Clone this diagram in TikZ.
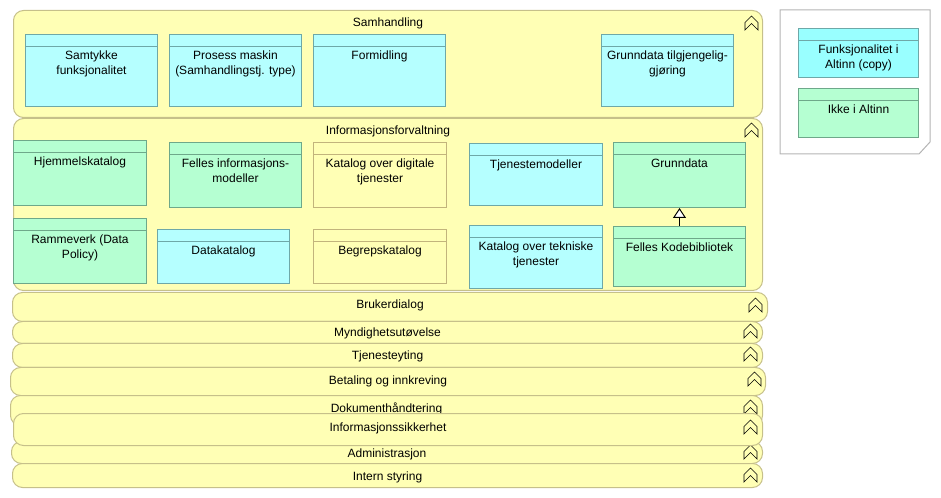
\documentclass[tikz,border=0pt]{standalone}
\usepackage{fontspec}
\setmainfont{Liberation Sans}
\usetikzlibrary{arrows.meta,calc}
\definecolor{grpfill}{HTML}{FFFFB5}
\definecolor{grpline}{HTML}{C6C08A}
\definecolor{cyanfill}{HTML}{B5FFFF}
\definecolor{cyanline}{HTML}{6EA8A8}
\definecolor{legcyanfill}{HTML}{99FFFF}
\definecolor{greenfill}{HTML}{B5FFD2}
\definecolor{greenline}{HTML}{6EA88A}
\definecolor{yelline}{HTML}{C2B47C}
\definecolor{legline}{HTML}{B4B4B4}
\tikzset{
  grp/.style={draw=grpline, fill=grpfill, rounded corners=7.5pt, inner sep=0pt, anchor=north west},
  cyanbox/.style={draw=cyanline, fill=cyanfill},
  legcyanbox/.style={draw=cyanline, fill=legcyanfill},
  greenbox/.style={draw=greenline, fill=greenfill},
  yellowbox/.style={draw=yelline, fill=grpfill},
  chevst/.style={draw=black, line width=0.5pt, line join=miter},
  lbl/.style={inner sep=0pt, text=black},
}
% group / band: name, x1, y1, x2, y2, label, baseline offset
\newcommand\grpbox[7]{%
  \node[grp, minimum width={(#4-#2)*0.75pt}, minimum height={(#5-#3)*0.75pt}] (#1) at (#2,#3) {};
  \node[lbl, anchor=base] (#1-t) at ($(#1.north)+(0,#7)$) {#6};
}
% chevron icon at top-left x,y
\newcommand\chev[2]{%
  \draw[chevst] (#1,#2+14) -- (#1,#2+6.5) -- (#1+6.5,#2) -- (#1+13,#2+6.5) -- (#1+13,#2+14) -- (#1+6.5,#2+7.5) -- cycle;
}
% element: name, x1, y1, x2, y2, style, text
\newcommand\elem[7]{%
  \node[#6, inner sep=0pt, anchor=north west, minimum width={(#4-#2)*0.75pt}, minimum height={(#5-#3)*0.75pt}] (#1) at (#2,#3) {};
  \draw[#6, fill=none] ($(#1.north west)+(0,12.5)$) -- ($(#1.north east)+(0,12.5)$);
  \node[lbl, anchor=north, align=center] (#1-t) at ($(#1.north)+(0,16)$) {#7};
}
\begin{document}
\begin{tikzpicture}[x=0.75pt, y=-0.75pt, line width=0.75pt, font=\fontsize{9}{11.25}\selectfont]
\useasboundingbox (0,0) rectangle (941,498);

% ---- Samhandling ----
\grpbox{samh}{13}{10}{762}{117}{Samhandling}{16.5}
\chev{745}{16}
\elem{samtykke}{25}{34}{157}{106}{cyanbox}{Samtykke\\funksjonalitet}
\elem{prosess}{169}{34}{301}{106}{cyanbox}{Prosess maskin\\(Samhandlingstj. type)}
\elem{formidling}{313}{34}{445}{106}{cyanbox}{Formidling}
\elem{grunntilg}{601}{34}{733}{106}{cyanbox}{Grunndata tilgjengelig-\\gjøring}

% ---- Informasjonsforvaltning ----
\grpbox{infoforv}{13}{118}{762}{290}{Informasjonsforvaltning}{16.5}
\chev{745}{123}
\elem{hjemmel}{13}{140}{146}{205}{greenbox}{Hjemmelskatalog}
\elem{felles}{169}{142}{301}{207}{greenbox}{Felles informasjons-\\modeller}
\elem{katdig}{313}{142}{446}{207}{yellowbox}{Katalog over digitale\\tjenester}
\elem{tjmod}{469}{143}{602}{205}{cyanbox}{Tjenestemodeller}
\elem{grunndata}{613}{142}{745}{207}{greenbox}{Grunndata}
\elem{rammeverk}{13}{218}{146}{283}{greenbox}{Rammeverk (Data\\Policy)}
\elem{datakat}{157}{229}{289}{283}{cyanbox}{Datakatalog}
\elem{begrep}{313}{229}{446}{283}{yellowbox}{Begrepskatalog}
\elem{kattek}{469}{225}{602}{288}{cyanbox}{Katalog over tekniske\\tjenester}
\elem{kode}{613}{226}{745}{286}{greenbox}{Felles Kodebibliotek}
\draw[-{Triangle[length=7.5pt,width=9.75pt,fill=white]}, draw=black, line width=0.75pt] (kode.north) -- (grunndata.south);

% ---- collapsed bands ----
\grpbox{bruker}{12}{292}{767}{321}{Brukerdialog}{17}
\chev{749}{298}
\grpbox{mynd}{12}{321}{762}{343}{Myndighetsutøvelse}{16}
\chev{744}{324}
\grpbox{tjen}{12}{343}{762}{367}{Tjenesteyting}{17}
\chev{744}{347}
\grpbox{betal}{10}{367}{765}{395}{Betaling og innkreving}{17}
\chev{748}{372}
\grpbox{dok}{10}{395}{762}{425}{Dokumenthåndtering}{17}
\chev{744}{400}
\grpbox{admin}{11}{441}{762}{463}{Administrasjon}{16}
\chev{744}{445}
\grpbox{infosikk}{13}{413}{762}{445}{Informasjonssikkerhet}{18}
\chev{744}{420}
\grpbox{intern}{12}{463}{762}{487}{Intern styring}{17}
\chev{744}{468}

% ---- legend ----
\draw[draw=legline, fill=white] (780,10) -- (930,10) -- (930,142) -- (919,154) -- (780,154) -- cycle;
\elem{legcopy}{798}{28}{918}{77}{legcyanbox}{Funksjonalitet i\\Altinn (copy)}
\elem{legikke}{798}{88}{918}{137}{greenbox}{Ikke i Altinn}
\end{tikzpicture}
\end{document}
